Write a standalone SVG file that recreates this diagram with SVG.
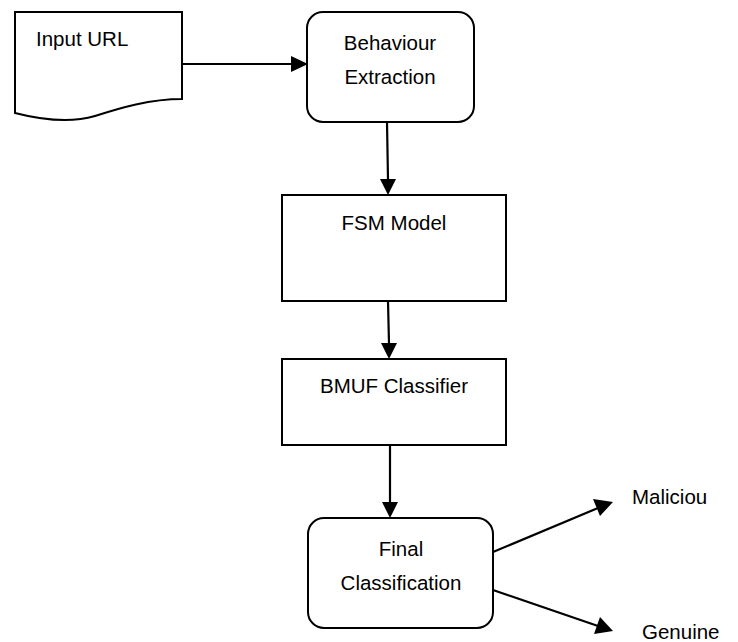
<svg xmlns="http://www.w3.org/2000/svg" width="738" height="642" viewBox="0 0 738 642">
<style>
.shape{fill:#fff;stroke:#000;stroke-width:2}
.lbl{font-family:"Liberation Sans",Arial,sans-serif;font-size:20.5px;fill:#000}
.c{text-anchor:middle}
.ln{stroke:#000;stroke-width:2.2;fill:none}
.hd{fill:#000}
</style>
<rect width="738" height="642" fill="#fff"/>
<g id="connectors">
<path class="ln" d="M182,64 L293,64"/>
<path class="hd" d="M291,56 L308,64 L291,72 Z"/>
<path class="ln" d="M387,122 L388,180"/>
<path class="hd" d="M380,179 L388,195 L396,179 Z"/>
<path class="ln" d="M388,301 L389,344"/>
<path class="hd" d="M381,343 L389,359 L397,343 Z"/>
<path class="ln" d="M390,445 L390,503"/>
<path class="hd" d="M382,502 L390,518 L398,502 Z"/>
<path class="ln" d="M493,552 L598,508"/>
<path class="hd" d="M593,499 L613,502 L600,516 Z"/>
<path class="ln" d="M493,590 L598,626"/>
<path class="hd" d="M600,617 L613,631 L594,634 Z"/>
</g>
<g id="input-url">
<path class="shape" d="M15,12 L182,12 L182,99 C150,99 120,108 95,116 C75,122 50,122 15,113 Z"/>
<text class="lbl" x="36" y="46">Input URL</text>
</g>
<g id="behaviour-extraction">
<rect class="shape" x="307" y="12" width="167" height="110" rx="16" ry="16"/>
<text class="lbl c" x="390" y="50">Behaviour</text>
<text class="lbl c" x="390" y="84">Extraction</text>
</g>
<g id="fsm-model">
<rect class="shape" x="282" y="195" width="224" height="106"/>
<text class="lbl c" x="394" y="230">FSM Model</text>
</g>
<g id="bmuf-classifier">
<rect class="shape" x="282" y="359" width="224" height="86"/>
<text class="lbl c" x="394" y="393">BMUF Classifier</text>
</g>
<g id="final-classification">
<rect class="shape" x="308" y="518" width="185" height="110" rx="16" ry="16"/>
<text class="lbl c" x="401" y="556">Final</text>
<text class="lbl c" x="401" y="590">Classification</text>
</g>
<g id="malicious">
<text class="lbl" x="632" y="504">Maliciou</text>
</g>
<g id="genuine">
<text class="lbl" x="642" y="639">Genuine</text>
</g>
</svg>
